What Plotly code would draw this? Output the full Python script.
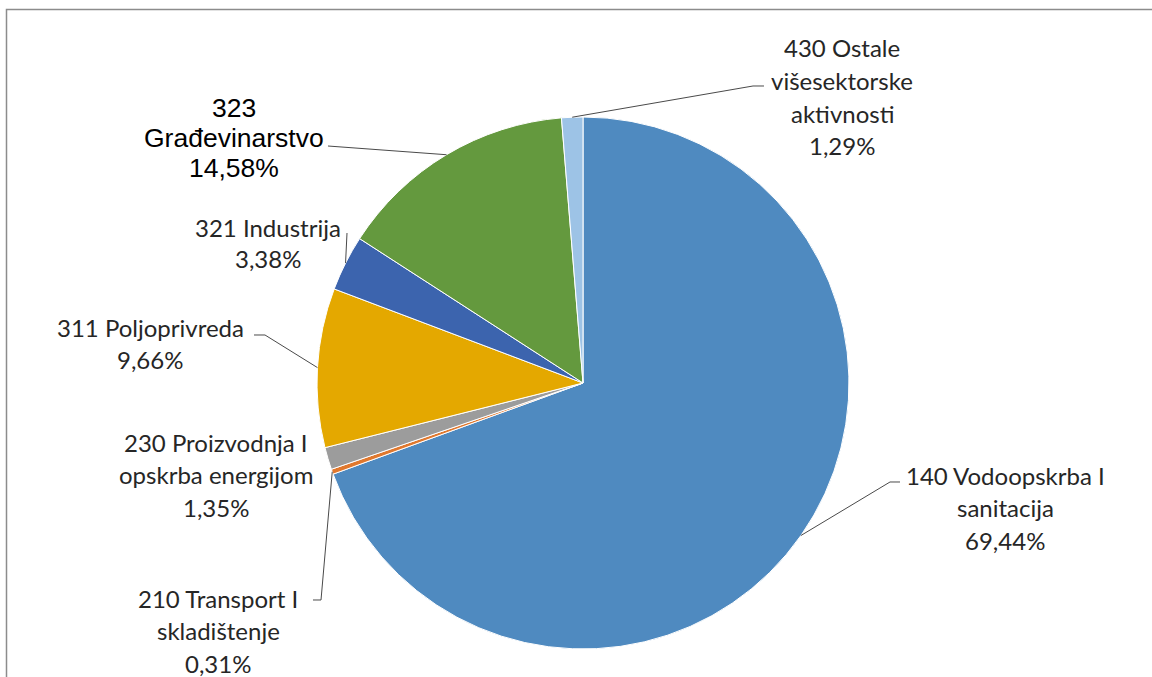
import math
import plotly.graph_objects as go

# ---- data ----
labels = [
    "140 Vodoopskrba I<br>sanitacija",
    "210 Transport I<br>skladištenje",
    "230 Proizvodnja I<br>opskrba energijom",
    "311 Poljoprivreda",
    "321 Industrija",
    "323<br>Građevinarstvo",
    "430 Ostale<br>višesektorske<br>aktivnosti",
]
values = [69.44, 0.31, 1.35, 9.66, 3.38, 14.58, 1.29]
colors = ["#4F8AC0", "#E0782E", "#9C9C9C", "#E4A800", "#3C64AE", "#64993E", "#9DC3E6"]

# ---- layout constants (pixels) ----
W, H = 1152, 677
CX, CY, R = 583, 383, 266

def px(x):
    return x / W

def py(y):
    return 1 - y / H

CAL = "Lato"
ARI = "Liberation Sans"

# label placement: center x, first-line y, line spacing, font, size, color
label_pos = [
    (1005, 475, 32.5, CAL, 24, "#262626"),
    (218, 598, 32.5, CAL, 24, "#262626"),
    (216, 442, 32.5, CAL, 24, "#262626"),
    (150, 327, 32.5, CAL, 24, "#262626"),
    (268, 227, 31.5, CAL, 24, "#262626"),
    (234, 108, 30, ARI, 26.5, "#000000"),
    (842, 48, 32.5, CAL, 24, "#262626"),
]
# leader line waypoints after the slice edge point
leader_pts = [
    [(890, 482), (900, 482)],
    [(321, 600), (313, 600)],
    None,
    [(265, 335), (254, 335)],
    [(347, 233)],
    [(328, 146)],
    [(753, 86), (764, 86)],
]

fig = go.Figure(go.Pie(
    labels=[l.replace("<br>", " ") for l in labels],
    values=values,
    sort=False,
    direction="clockwise",
    rotation=0,
    textinfo="none",
    hoverinfo="skip",
    marker=dict(colors=colors, line=dict(color="white", width=1)),
    domain=dict(x=[px(CX - R), px(CX + R)], y=[py(CY + R), py(CY - R)]),
    showlegend=False,
))

annotations = []
shapes = []
total = sum(values)
cum = 0.0
for i, v in enumerate(values):
    mid = (cum + v / 2) / total
    cum += v
    ang = 2 * math.pi * mid
    ex, ey = CX + R * math.sin(ang), CY - R * math.cos(ang)
    pct = f"{v:.2f}".replace(".", ",") + "%"
    lines = labels[i].split("<br>") + [pct]
    x0, y0, sp, fam, size, col = label_pos[i]
    for k, t in enumerate(lines):
        annotations.append(dict(
            x=px(x0), y=py(y0 + k * sp), xref="paper", yref="paper",
            text=t, showarrow=False, xanchor="center", yanchor="middle",
            font=dict(family=fam, size=size, color=col),
        ))
    if leader_pts[i]:
        pts = [(ex, ey)] + leader_pts[i]
        path = "M " + " L ".join(f"{px(a):.5f},{py(b):.5f}" for a, b in pts)
        shapes.append(dict(type="path", path=path, xref="paper", yref="paper",
                           line=dict(color="#4a4a4a", width=1)))

# chart frame (top and left edges visible)
shapes.append(dict(type="path", xref="paper", yref="paper",
                   path=f"M {px(6.5)},{py(677)} L {px(6.5)},{py(9.5)} L {px(1152)},{py(9.5)}",
                   line=dict(color="#8C8C8C", width=1.5)))

fig.update_layout(
    width=W, height=H,
    margin=dict(l=0, r=0, t=0, b=0),
    paper_bgcolor="white",
    plot_bgcolor="white",
    annotations=annotations,
    shapes=shapes,
)

fig.write_html(
    "out.html",
    config={"displayModeBar": False},
    post_script="document.body.style.margin='0';document.body.style.overflow='hidden';",
)
